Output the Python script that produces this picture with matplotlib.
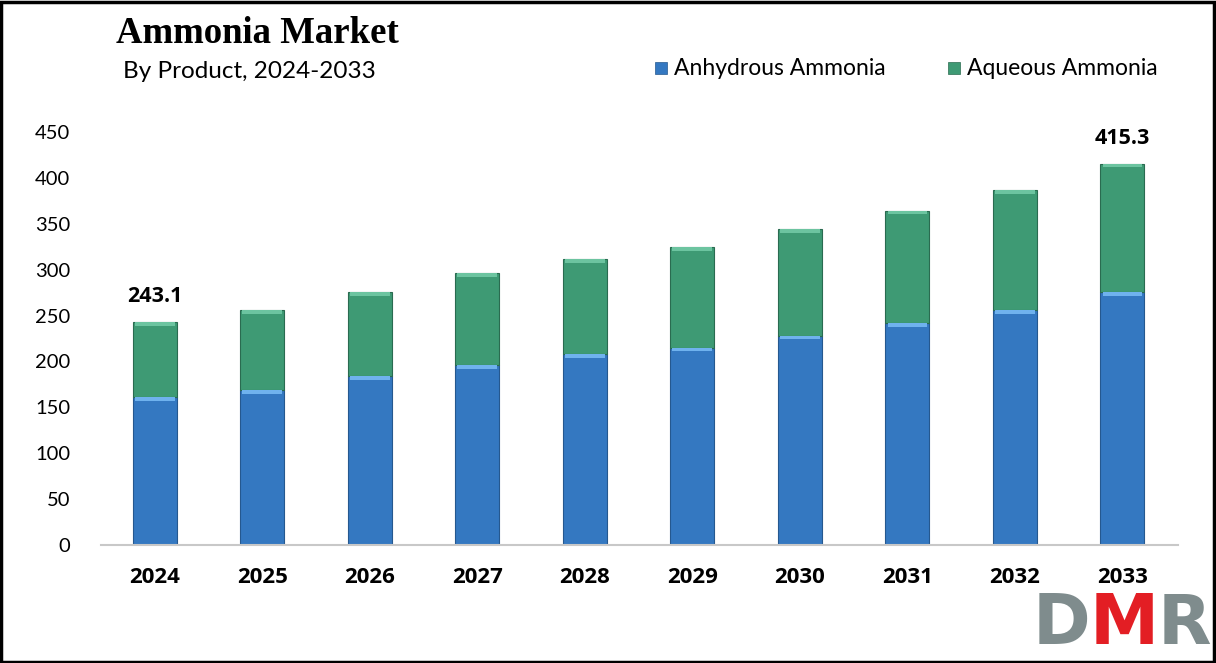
import matplotlib.pyplot as plt
from matplotlib.patches import Rectangle

years = ["2024", "2025", "2026", "2027", "2028", "2029", "2030", "2031", "2032", "2033"]
anhydrous = [161.0, 168.9, 184.1, 196.1, 207.7, 215.0, 228.1, 241.5, 256.0, 275.3]
aqueous = [82.1, 86.8, 91.2, 99.9, 103.9, 109.7, 116.2, 122.8, 130.8, 140.0]
end_labels = {0: "243.1", 9: "415.3"}
y_ticks = [0, 50, 100, 150, 200, 250, 300, 350, 400, 450]

blue = "#3478c1"
green = "#3e9a74"

fig = plt.figure(figsize=(12.16, 6.63), dpi=100)
ax = fig.add_axes([0.083, 0.178, 0.886, 0.623])

x = list(range(len(years)))
w = 0.41
ax.bar(x, anhydrous, width=w, color=blue, edgecolor="#25588f", linewidth=0.8)
ax.bar(x, aqueous, width=w, bottom=anhydrous, color=green, edgecolor="#2a6b50", linewidth=0.8)

# light bevel strip on top of each segment
ax.bar(x, [4] * len(x), width=w * 0.9, bottom=[a - 4 for a in anhydrous], color="#6fb2ee", linewidth=0)
tops = [a + b for a, b in zip(anhydrous, aqueous)]
ax.bar(x, [4] * len(x), width=w * 0.9, bottom=[t - 4 for t in tops], color="#6cc4a0", linewidth=0)

for i, lab in end_labels.items():
    ax.text(i, tops[i] + 16, lab, ha="center", va="bottom", fontsize=15.5,
            fontweight="bold", family="Open Sans")

ax.set_xlim(-0.5, 9.52)
ax.set_ylim(0, 450)
ax.set_yticks(y_ticks)
ax.set_yticklabels([str(v) for v in y_ticks], fontsize=14.5, family="Lato")
ax.set_xticks(x)
ax.set_xticklabels(years, fontsize=16, fontweight="bold", family="Open Sans")
ax.tick_params(axis="both", length=0)
ax.tick_params(axis="y", pad=22)
ax.tick_params(axis="x", pad=16)
for s in ["top", "right", "left"]:
    ax.spines[s].set_visible(False)
ax.spines["bottom"].set_color("#c8c8c8")
ax.spines["bottom"].set_linewidth(1.5)

fig.text(0.095, 0.950, "Ammonia Market", fontsize=26.5, fontweight="bold",
         family="Liberation Serif", va="center")
fig.text(0.101, 0.892, "By Product, 2024-2033", fontsize=17.5, family="Lato", va="center")

# legend
fig.patches.append(Rectangle((0.539, 0.889), 0.0095, 0.018, transform=fig.transFigure,
                             color=blue, ec="#25588f", lw=0.5))
fig.text(0.554, 0.897, "Anhydrous Ammonia", fontsize=16.5, family="Lato", va="center")
fig.patches.append(Rectangle((0.780, 0.889), 0.0095, 0.018, transform=fig.transFigure,
                             color=green, ec="#2a6b50", lw=0.5))
fig.text(0.795, 0.897, "Aqueous Ammonia", fontsize=16.5, family="Lato", va="center")

# logo
fig.text(0.849, 0.058, "D", fontsize=50, fontweight="bold", color="#7f8c8d",
         family="DejaVu Sans", va="center")
fig.text(0.896, 0.058, "M", fontsize=50, fontweight="bold", color="#e31e24",
         family="DejaVu Sans", va="center")
fig.text(0.952, 0.058, "R", fontsize=50, fontweight="bold", color="#7f8c8d",
         family="DejaVu Sans", va="center")

# frame
fig.patches.append(Rectangle((0.001, 0.002), 0.997, 0.995, transform=fig.transFigure,
                             fill=False, ec="black", lw=2.5))

fig.savefig("out.png", dpi=100)
